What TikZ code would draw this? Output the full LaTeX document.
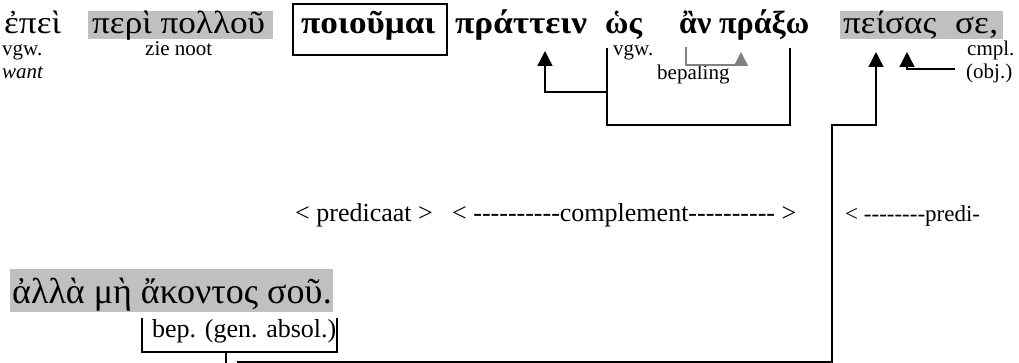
\documentclass[tikz,border=0pt]{standalone}
\usepackage{fontspec}
\setmainfont{Liberation Serif}
\newfontfamily\gkwide{Liberation Serif}[FakeStretch=1.1]
\usetikzlibrary{arrows.meta}
\definecolor{hl}{RGB}{192,192,192}
\definecolor{gline}{RGB}{128,128,128}
% a run of plain hyphens, kept apart so they do not merge into dashes
\newcommand\hyphrun[1]{\foreach \k in {1,...,#1}{\mbox{-}}}
\begin{document}
\begin{tikzpicture}[x=1pt,y=-1pt,
  gk/.style={font=\gkwide\fontsize{32}{32}\selectfont, inner sep=0pt, anchor=base west},
  gkb/.style={font=\gkwide\fontsize{32}{32}\selectfont\bfseries, inner sep=0pt, anchor=base west},
  gkbn/.style={font=\fontsize{32}{32}\selectfont\bfseries, inner sep=0pt, anchor=base west},
  gkl/.style={font=\fontsize{36}{36}\selectfont, inner sep=0pt, anchor=base west},
  lbl/.style={font=\fontsize{21}{21}\selectfont, inner sep=0pt, anchor=base west},
  biglbl/.style={font=\fontsize{26}{26}\selectfont, inner sep=0pt, anchor=base west},
  conn/.style={line width=1.4pt, -{Triangle[width=15pt,length=15pt]}},
  gconn/.style={line width=1.4pt, draw=gline, -{Triangle[width=14pt,length=14pt]}, gline},
  brk/.style={line width=1.3pt},
]
\useasboundingbox (0,0) rectangle (1019,363);

% highlighted phrases
\fill[hl] (88,11) rectangle (273,39);
\fill[hl] (840,11) rectangle (1003,39);
\fill[hl] (10,269) rectangle (333,312);

% first line of Greek text
\node[gk]   (epei)     at (4,34)   {ἐπεὶ};
\node[gk]   (peri)     at (92,34)  {περὶ πολλοῦ};
\node[gkb]  (poiou)    at (301,34) {ποιοῦμαι};
\draw[brk] (293,4) rectangle (447,55);
\node[gkb]  (prattein) at (455,34) {πράττειν};
\node[gkbn] (hos)      at (605,34) {ὡς};
\node[gkbn] (an)       at (679,34) {ἂν};
\node[gkbn] (praxo)    at (719,34) {πράξω};
\node[gk]   (peisas)   at (843,34) {πείσας};
\node[gk]   (se)       at (955,34) {σε};
\node[gk, anchor=base west] (comma) at (se.base east) {,};

% labels under the first line
\node[lbl] (vgw1) at (2,56)   {vgw.};
\node[lbl] (zie)  at (145,56) {zie noot};
\node[lbl] (want) at (2,79)   {\itshape want};
\node[lbl] (vgw2) at (613,56) {vgw.};
\node[lbl] (bep)  at (657,80) {bepaling};
\node[lbl] (cmpl) at (967,56) {cmpl.};
\node[lbl] (obj)  at (966,79) {(obj.)};

% middle row
\node[biglbl] (pred)  at (295,222) {<\ predicaat\ >};
\node[biglbl] (compl) at (452,222) {<\ \hyphrun{10}complement\hyphrun{10}\ >};
\node[biglbl, font=\fontsize{23}{23}\selectfont] (predi) at (845,222) {<\ \hyphrun{8}predi-};

% second Greek line
\node[gkl] (alla) at (12,303) {ἀλλὰ μὴ ἄκοντος σοῦ};
\node[gkl, anchor=base west] (stop) at (alla.base east) {.};
\node[biglbl] (gen) at (152,337) {bep. (gen. absol.)};

% arrow tips
\coordinate (tPr) at (545,51);
\coordinate (tAn) at (741,52);
\coordinate (tPe) at (876,52);
\coordinate (tSe) at (907,52);

% bracket under ὡς ἂν πράξω with branch to πράττειν
\draw[brk] (607,48) -- (607,125) -- (790,125) -- (790,48);
\draw[conn] (607,92) -- (545,92) -- (tPr);

% ἂν belongs to πράξω
\draw[gconn] (686,47) -- (686,65) -- (741,65) -- (tAn);

% complement of πείσας
\draw[conn] (955,69) -- (907,69) -- (tSe);

% bracket under the genitive absolute and its link to πείσας
\draw[brk] (142,318) -- (142,352) -- (337,352) -- (337,318);
\draw[brk] (226,352) -- (226,363);
\draw[conn] (237,362) -- (832,362) -- (832,125) -- (876,125) -- (tPe);
\end{tikzpicture}
\end{document}
